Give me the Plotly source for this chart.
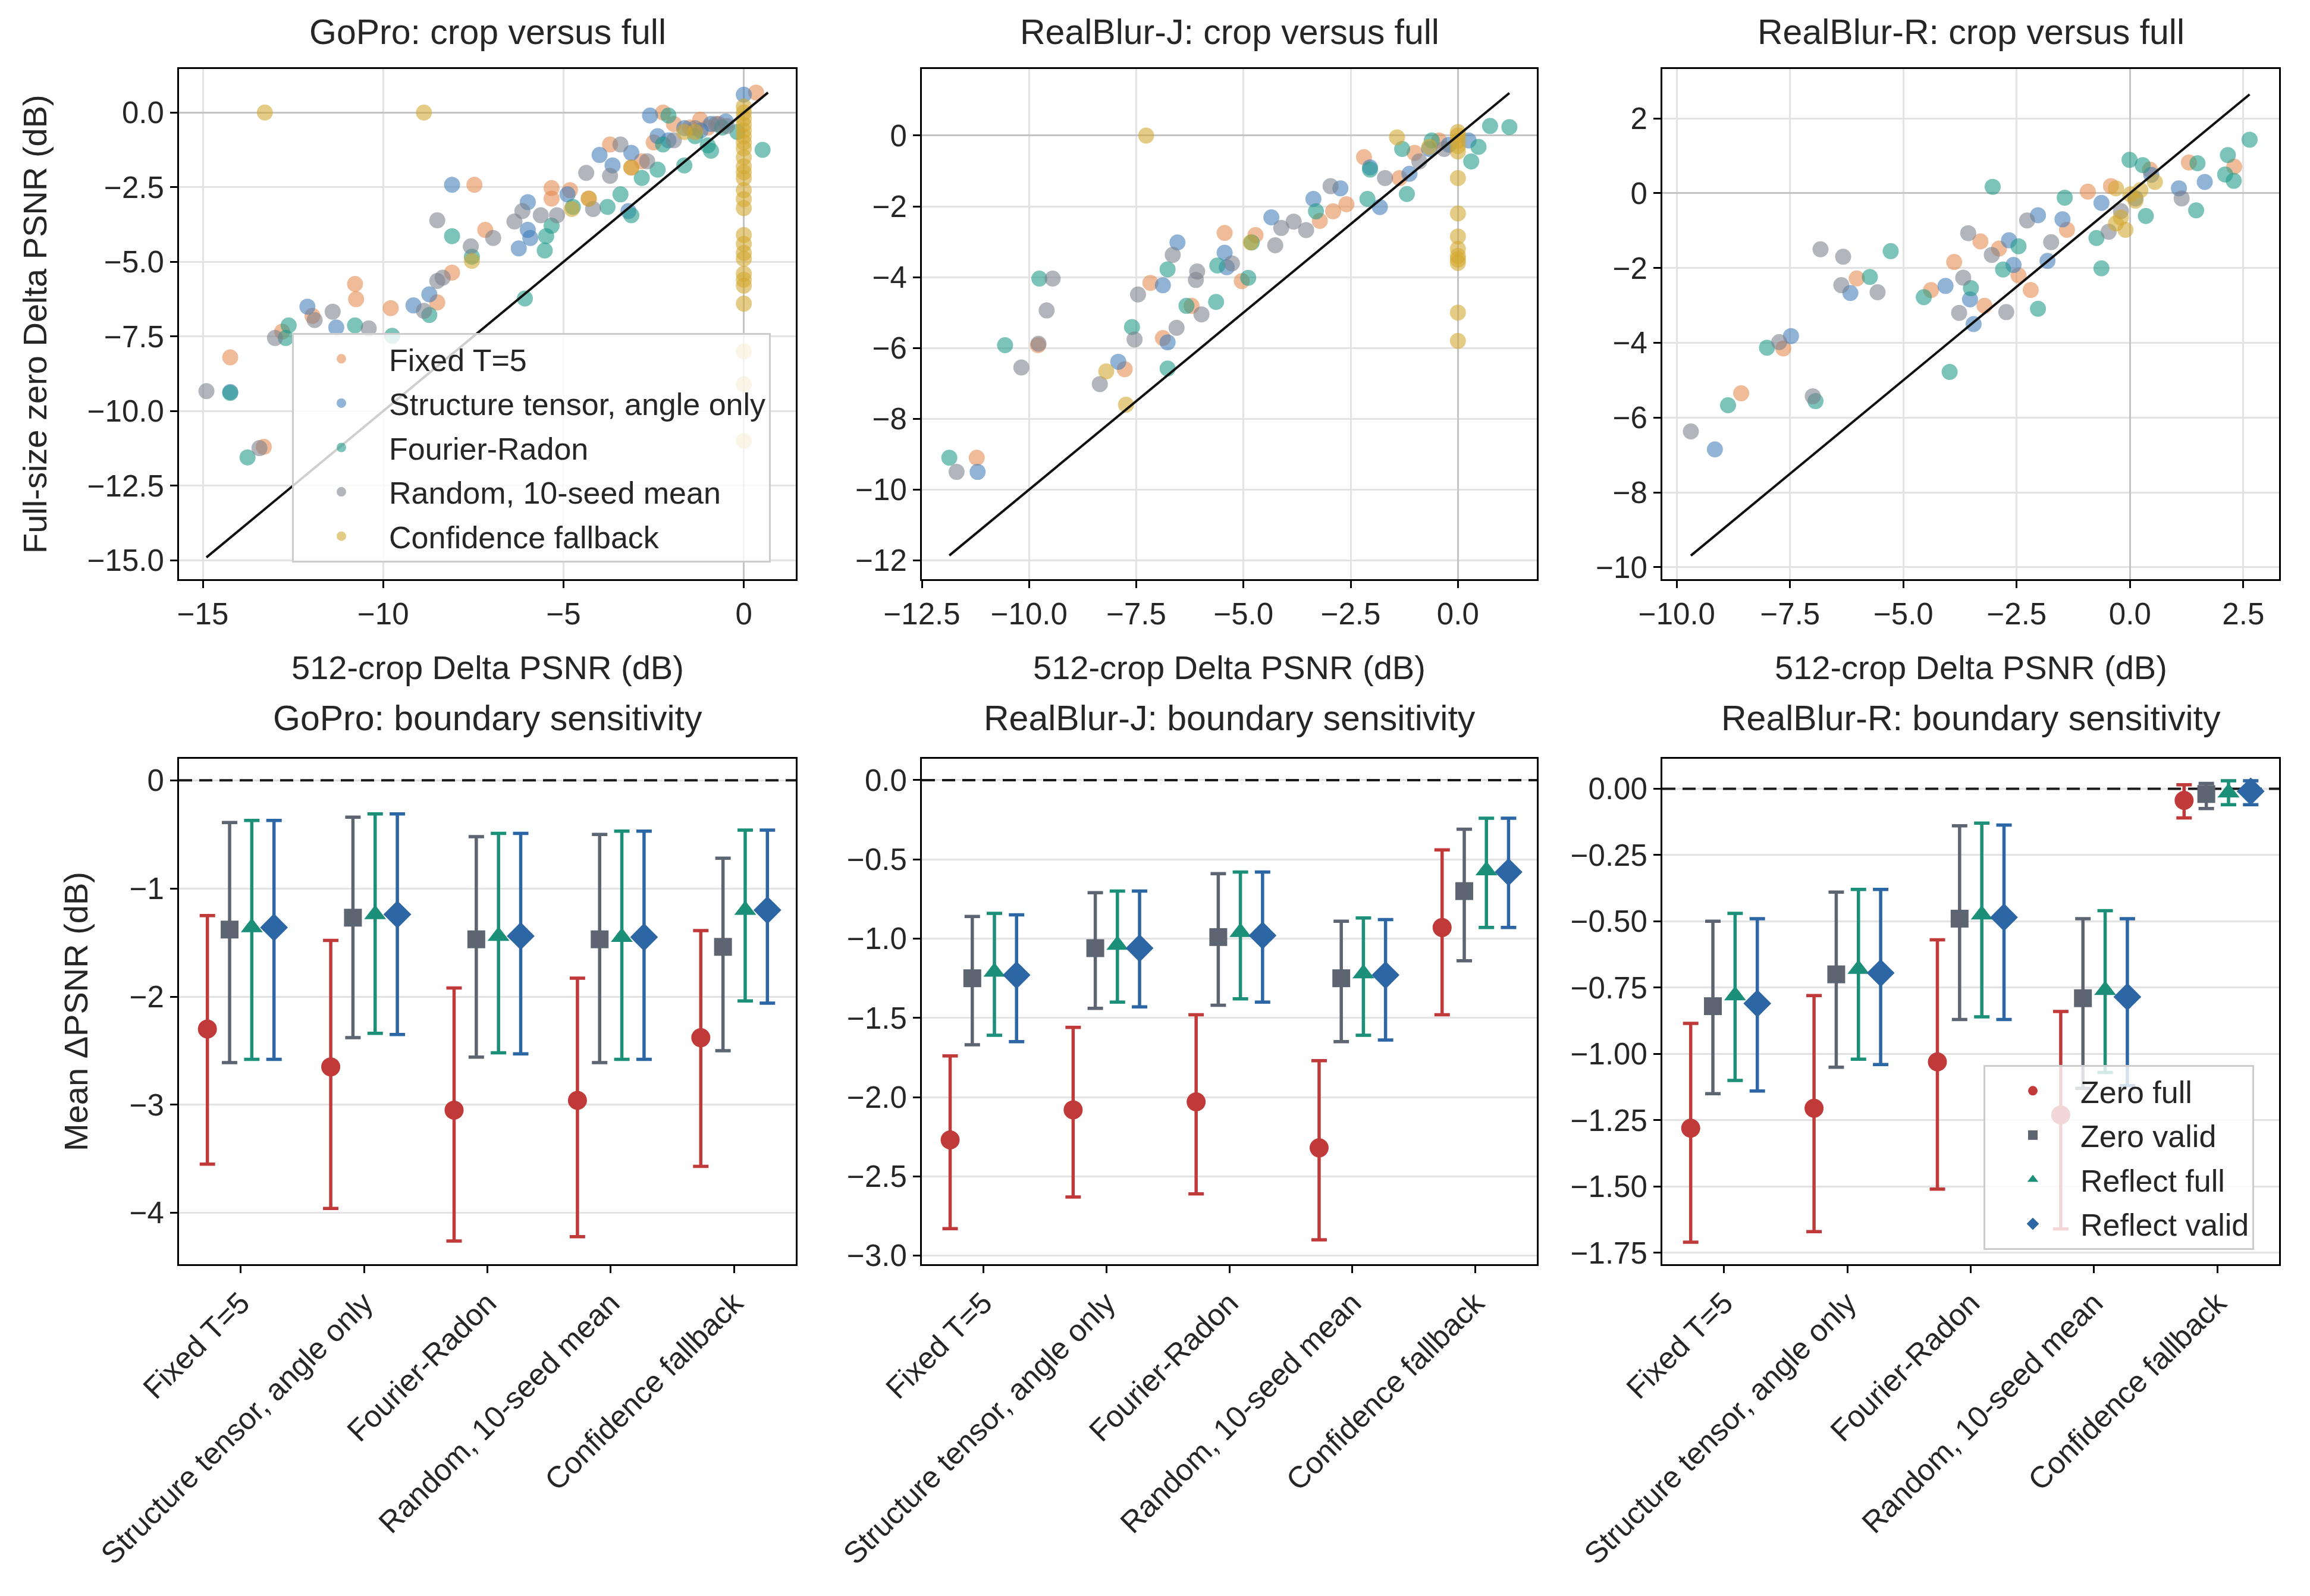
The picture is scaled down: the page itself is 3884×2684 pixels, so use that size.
import plotly.graph_objects as go
from plotly.subplots import make_subplots

W, H = 3884, 2684
FONT = "Liberation Sans, Arial, Helvetica, sans-serif"
INK = "#262626"

# ---------------- data ----------------
METHODS = ["Fixed T=5", "Structure tensor, angle only", "Fourier-Radon",
           "Random, 10-seed mean", "Confidence fallback"]
METHOD_COLORS = ["#E58A50", "#3F7CB8", "#1E9A88", "#7B808C", "#D2A72E"]
DATASETS = ["GoPro", "RealBlur-J", "RealBlur-R"]

# (512-crop delta, full-size zero delta) per image
GOPRO_FIXED = [(0.34, 0.67), (-2.24, 0.0), (-7.47, -2.42), (-5.33, -2.53), (-4.82, -2.6),
               (-7.17, -3.93), (-8.09, -5.36), (-10.78, -5.74), (-10.75, -6.25), (-9.79, -6.55),
               (-8.5, -6.36), (-11.96, -6.81), (-12.8, -7.34), (-14.24, -8.2), (-13.31, -11.2),
               (-4.3, -2.88), (-3.12, -1.84), (-1.5, -0.5), (-2.83, -1.63), (-0.7, -0.38),
               (-5.33, -2.88), (-3.71, -1.07), (-1.94, -0.38), (-1.21, -0.24), (-1.0, -0.5),
               (-2.5, -1.0)]
GOPRO_STRUCT = [(0.0, 0.6), (-2.6, -0.1), (-8.09, -2.42), (-5.99, -3.0), (-6.24, -4.55),
                (-5.99, -3.93), (-5.92, -4.2), (-8.72, -6.09), (-9.16, -6.46), (-12.1, -6.5),
                (-11.3, -7.2), (-14.24, -9.36), (-4.0, -1.42), (-3.64, -1.77), (-3.12, -1.35),
                (-2.39, -0.79), (-1.65, -0.52), (-0.91, -0.38), (-4.89, -2.74), (-3.2, -3.3),
                (-2.09, -0.93), (-1.2, -0.6), (-0.5, -0.3)]
GOPRO_FOURIER = [(0.52, -1.25), (-0.18, -0.65), (-0.91, -1.28), (-2.09, -0.1), (-1.65, -1.77),
                 (-2.39, -1.91), (-2.83, -2.19), (-3.12, -3.44), (-3.42, -2.74), (-3.78, -3.16),
                 (-4.74, -3.16), (-5.48, -4.14), (-5.33, -3.79), (-5.52, -4.62), (-6.07, -6.23),
                 (-8.09, -4.14), (-7.54, -4.83), (-8.72, -6.78), (-10.78, -7.13), (-12.62, -7.13),
                 (-12.7, -7.55), (-9.75, -7.48), (-14.24, -9.39), (-13.76, -11.55), (-1.35, -0.79),
                 (-2.24, -1.07), (-0.6, -0.5), (-1.0, -1.1)]
GOPRO_RANDOM = [(-14.9, -9.33), (-13.43, -11.24), (-13.0, -7.55), (-11.9, -6.95), (-11.4, -6.67),
                (-10.4, -7.23), (-8.87, -6.64), (-8.5, -5.64), (-8.35, -5.53), (-8.5, -3.61),
                (-7.57, -4.48), (-6.95, -4.2), (-6.36, -3.65), (-6.14, -3.3), (-5.63, -3.44),
                (-5.18, -3.44), (-4.37, -2.02), (-4.18, -3.23), (-3.71, -2.12), (-3.42, -1.07),
                (-2.68, -1.63), (-1.94, -0.93), (-1.35, -0.52), (-0.77, -0.38), (-0.47, -0.45)]
GOPRO_CONF = [(-13.28, 0.0), (-8.87, 0.0), (-7.54, -4.97), (-4.3, -2.88), (-4.77, -3.23),
              (-3.12, -1.84), (-1.35, -0.65), (-1.65, -0.65), (0.0, 0.2), (0.0, 0.0),
              (0.0, -0.2), (0.0, -0.4), (0.0, -0.6), (0.0, -0.8), (0.0, -1.0), (0.0, -1.2),
              (0.0, -1.5), (0.0, -1.8), (0.0, -2.0), (0.0, -2.2), (0.0, -2.6), (0.0, -2.9),
              (0.0, -3.2), (0.0, -4.1), (0.0, -4.4), (0.0, -4.7), (0.0, -4.9), (0.0, -5.4),
              (0.0, -5.6), (0.0, -5.8), (0.0, -6.4), (0.0, -8.0), (0.0, -9.1), (0.0, -11.0)]

RBJ_FIXED = [(-11.22, -9.1), (-9.79, -5.92), (-7.17, -4.16), (-7.77, -6.6), (-6.88, -5.72),
             (-6.21, -4.81), (-5.44, -2.75), (-4.72, -2.81), (-5.04, -4.11), (-3.22, -2.41),
             (-2.6, -1.94), (-2.19, -0.61), (-2.91, -2.14), (-1.36, -1.2), (-0.44, -0.14),
             (-1.01, -0.49)]
RBJ_STRUCT = [(-11.2, -9.5), (-7.92, -6.39), (-6.77, -5.84), (-6.88, -4.23), (-6.54, -3.02),
              (-5.44, -3.31), (-4.35, -2.31), (-3.37, -1.79), (-2.74, -1.49), (-2.05, -0.9),
              (-1.82, -2.02), (-1.13, -1.08), (-0.67, -0.38), (-0.21, -0.26), (0.25, -0.14),
              (-5.39, -3.72)]
RBJ_FOURIER = [(-11.86, -9.1), (-9.76, -4.04), (-10.56, -5.92), (-7.6, -5.41), (-6.77, -3.78),
               (-6.77, -6.58), (-6.33, -4.81), (-5.64, -4.7), (-5.61, -3.67), (-4.89, -4.02),
               (-4.81, -3.02), (-3.31, -2.14), (-2.11, -1.79), (-1.19, -1.65), (-1.3, -0.38),
               (0.75, 0.27), (1.2, 0.24), (0.31, -0.73), (0.48, -0.32), (-0.61, -0.14),
               (-2.05, -0.96)]
RBJ_RANDOM = [(-11.69, -9.5), (-10.18, -6.55), (-9.78, -5.88), (-9.59, -4.94), (-9.45, -4.04),
              (-8.35, -7.02), (-7.54, -5.76), (-7.46, -4.49), (-6.65, -3.37), (-6.56, -5.43),
              (-6.11, -4.08), (-5.98, -5.05), (-6.08, -3.84), (-5.27, -3.61), (-4.26, -3.1),
              (-4.12, -2.61), (-3.83, -2.43), (-3.54, -2.67), (-2.97, -1.43), (-1.7, -1.2),
              (-0.9, -0.73), (-0.32, -0.38)]
RBJ_CONF = [(-7.27, 0.0), (-8.2, -6.66), (-7.74, -7.6), (-4.83, -3.02), (-1.42, -0.05),
            (-0.67, -0.32), (0.0, 0.1), (0.0, 0.0), (0.0, -0.15), (0.0, -0.3), (0.0, -0.45),
            (0.0, -1.2), (0.0, -2.2), (0.0, -2.85), (0.0, -3.2), (0.0, -3.4), (0.0, -3.5),
            (0.0, -3.6), (0.0, -5.0), (0.0, -5.8)]

RBR_FIXED = [(-8.58, -5.35), (-7.65, -4.15), (-6.03, -2.28), (-4.39, -2.59), (-3.88, -1.84),
             (-3.3, -1.29), (-3.21, -3.01), (-2.46, -2.2), (-2.19, -2.59), (-0.93, 0.04),
             (-1.39, -0.98), (-0.42, 0.19), (0.44, 0.63), (1.3, 0.82), (2.3, 0.71), (-2.89, -1.48)]
RBR_STRUCT = [(-9.16, -6.85), (-7.48, -3.82), (-6.17, -2.67), (-3.53, -2.84), (-3.45, -3.5),
              (-2.67, -1.26), (-2.03, -0.59), (-1.49, -0.7), (-0.63, -0.26), (0.12, -0.14),
              (1.65, 0.3), (0.47, 0.49), (1.08, 0.13), (-4.07, -2.48), (-2.57, -1.92),
              (-1.82, -1.81)]
RBR_FOURIER = [(-8.87, -5.67), (-8.01, -4.13), (-5.74, -2.24), (-5.28, -1.55), (-4.55, -2.78),
               (-3.98, -4.78), (-3.03, 0.17), (-3.51, -2.54), (-2.8, -2.04), (-2.03, -3.09),
               (-1.44, -0.12), (-0.74, -1.2), (-0.63, -2.01), (-0.01, 0.89), (0.28, 0.75),
               (1.46, -0.46), (1.49, 0.8), (2.16, 1.02), (2.1, 0.5), (2.29, 0.33), (2.64, 1.43),
               (-6.94, -5.56), (0.35, -0.61), (-2.46, -1.42)]
RBR_RANDOM = [(-9.69, -6.37), (-7.74, -3.98), (-7.0, -5.43), (-6.83, -1.5), (-6.33, -1.7),
              (-6.37, -2.46), (-5.57, -2.65), (-3.57, -1.07), (-3.77, -3.2), (-2.73, -3.18),
              (-2.27, -0.73), (-1.74, -1.31), (-0.47, -1.03), (-0.2, -0.48), (1.14, -0.14),
              (-3.68, -2.26), (-3.05, -1.65)]
RBR_CONF = [(-0.31, -0.81), (-0.2, -0.65), (0.01, -0.03), (0.12, -0.2), (0.23, 0.08),
            (0.55, 0.3), (-0.1, -0.98), (-0.31, 0.13)]

SCATTER_DATA = [
    [GOPRO_FIXED, GOPRO_STRUCT, GOPRO_FOURIER, GOPRO_RANDOM, GOPRO_CONF],
    [RBJ_FIXED, RBJ_STRUCT, RBJ_FOURIER, RBJ_RANDOM, RBJ_CONF],
    [RBR_FIXED, RBR_STRUCT, RBR_FOURIER, RBR_RANDOM, RBR_CONF],
]

# boundary sensitivity: (mean, low, high) per method
SERIES = ["Zero full", "Zero valid", "Reflect full", "Reflect valid"]
SERIES_COLORS = ["#C03A3A", "#5E6572", "#1B8F77", "#2C66A4"]
SERIES_SYMBOLS = ["circle", "square", "triangle-up", "diamond"]
SERIES_SIZES = [32, 30, 32, 36]
SERIES_OFFSETS = [-0.27, -0.09, 0.09, 0.27]

GOPRO_ZERO_FULL = [(-2.30, -3.55, -1.25), (-2.65, -3.96, -1.48), (-3.05, -4.26, -1.92),
                   (-2.96, -4.22, -1.83), (-2.38, -3.57, -1.39)]
GOPRO_ZERO_VALID = [(-1.38, -2.61, -0.39), (-1.27, -2.38, -0.34), (-1.47, -2.56, -0.52),
                    (-1.47, -2.61, -0.50), (-1.54, -2.50, -0.72)]
GOPRO_REFLECT_FULL = [(-1.36, -2.58, -0.37), (-1.24, -2.34, -0.31), (-1.44, -2.52, -0.49),
                      (-1.45, -2.58, -0.47), (-1.20, -2.04, -0.46)]
GOPRO_REFLECT_VALID = [(-1.36, -2.58, -0.37), (-1.24, -2.35, -0.31), (-1.44, -2.53, -0.49),
                       (-1.45, -2.58, -0.47), (-1.20, -2.06, -0.46)]

RBJ_ZERO_FULL = [(-2.27, -2.83, -1.74), (-2.08, -2.63, -1.56), (-2.03, -2.61, -1.48),
                 (-2.32, -2.90, -1.77), (-0.93, -1.48, -0.44)]
RBJ_ZERO_VALID = [(-1.25, -1.67, -0.86), (-1.06, -1.44, -0.71), (-0.99, -1.42, -0.59),
                  (-1.25, -1.65, -0.89), (-0.70, -1.14, -0.31)]
RBJ_REFLECT_FULL = [(-1.21, -1.61, -0.84), (-1.04, -1.40, -0.70), (-0.96, -1.38, -0.58),
                    (-1.22, -1.61, -0.87), (-0.57, -0.93, -0.24)]
RBJ_REFLECT_VALID = [(-1.23, -1.65, -0.85), (-1.06, -1.43, -0.70), (-0.98, -1.40, -0.58),
                     (-1.23, -1.64, -0.88), (-0.58, -0.93, -0.24)]

RBR_ZERO_FULL = [(-1.28, -1.71, -0.885), (-1.205, -1.67, -0.78), (-1.03, -1.51, -0.57),
                 (-1.23, -1.66, -0.84), (-0.044, -0.11, 0.015)]
RBR_ZERO_VALID = [(-0.82, -1.15, -0.50), (-0.70, -1.05, -0.39), (-0.49, -0.87, -0.14),
                  (-0.79, -1.13, -0.49), (-0.02, -0.075, 0.02)]
RBR_REFLECT_FULL = [(-0.78, -1.10, -0.47), (-0.68, -1.02, -0.38), (-0.475, -0.86, -0.13),
                    (-0.76, -1.07, -0.46), (-0.015, -0.06, 0.03)]
RBR_REFLECT_VALID = [(-0.81, -1.14, -0.49), (-0.695, -1.04, -0.38), (-0.485, -0.87, -0.137),
                     (-0.785, -1.12, -0.49), (-0.01, -0.06, 0.03)]

BOUNDARY_DATA = [
    [GOPRO_ZERO_FULL, GOPRO_ZERO_VALID, GOPRO_REFLECT_FULL, GOPRO_REFLECT_VALID],
    [RBJ_ZERO_FULL, RBJ_ZERO_VALID, RBJ_REFLECT_FULL, RBJ_REFLECT_VALID],
    [RBR_ZERO_FULL, RBR_ZERO_VALID, RBR_REFLECT_FULL, RBR_REFLECT_VALID],
]

# ---------------- layout geometry (px in the 3884x2684 figure) ----------------
COL_X = [(293, 1330), (1542, 2576), (2787, 3824)]
TOP_Y = (108, 966)
BOT_Y = (1268, 2118)

TOP_XRANGE = [[-15.66, 1.44], [-12.5, 1.84], [-10.32, 3.29]]
TOP_YRANGE = [[-15.63, 1.46], [-12.53, 1.88], [-10.32, 3.32]]
TOP_XTICKS = [[-15, -10, -5, 0], [-12.5, -10, -7.5, -5, -2.5, 0], [-10, -7.5, -5, -2.5, 0, 2.5]]
TOP_YTICKS = [[0, -2.5, -5, -7.5, -10, -12.5, -15], [0, -2, -4, -6, -8, -10, -12],
              [2, 0, -2, -4, -6, -8, -10]]
TOP_XFMT = ["d", ".1f", ".1f"]
TOP_YFMT = [".1f", "d", "d"]

BOT_XRANGE = [-0.5, 4.5]
BOT_YRANGE = [[-4.475, 0.2], [-3.054, 0.135], [-1.793, 0.113]]
BOT_DTICK = [1, 0.5, 0.25]
BOT_YFMT = ["d", ".1f", ".2f"]


def px_x(v):
    return v / W


def px_y(v):
    return 1 - v / H


fig = make_subplots(rows=2, cols=3)

axis_common = dict(
    automargin=False,
    showline=True, linecolor="black", linewidth=3, mirror=True,
    ticks="outside", ticklen=12, tickwidth=3, tickcolor="black",
    tickfont=dict(family=FONT, size=51, color=INK),
    gridcolor="#E3E3E3", gridwidth=2.5,
)

# ---------------- top row: crop versus full ----------------
for c in range(3):
    groups = SCATTER_DATA[c]
    all_vals = [v for g in groups for p in g for v in p]
    lo, hi = min(all_vals), max(all_vals)
    for m, pts in enumerate(groups):
        fig.add_trace(
            go.Scatter(
                x=[p[0] for p in pts], y=[p[1] for p in pts],
                mode="markers", name=METHODS[m],
                marker=dict(color=METHOD_COLORS[m], size=27, opacity=0.58, line=dict(width=0)),
                showlegend=(c == 0), legend="legend", legendgroup=f"m{m}",
            ),
            row=1, col=c + 1,
        )
    # identity line y = x
    fig.add_trace(
        go.Scatter(x=[lo, hi], y=[lo, hi], mode="lines",
                   line=dict(color="#111111", width=4), showlegend=False, hoverinfo="skip"),
        row=1, col=c + 1,
    )
    fig.update_xaxes(axis_common, range=TOP_XRANGE[c], tickvals=TOP_XTICKS[c],
                     tickformat=TOP_XFMT[c], showgrid=True,
                     zeroline=True, zerolinecolor="#C4C4C4", zerolinewidth=3,
                     domain=[px_x(COL_X[c][0]), px_x(COL_X[c][1])], row=1, col=c + 1)
    fig.update_yaxes(axis_common, range=TOP_YRANGE[c], tickvals=TOP_YTICKS[c],
                     tickformat=TOP_YFMT[c], showgrid=True,
                     zeroline=True, zerolinecolor="#C4C4C4", zerolinewidth=3,
                     domain=[px_y(TOP_Y[1]), px_y(TOP_Y[0])], row=1, col=c + 1)

# ---------------- bottom row: boundary sensitivity ----------------
for c in range(3):
    # dashed reference at zero, drawn first so markers sit on top
    fig.add_trace(
        go.Scatter(x=BOT_XRANGE, y=[0, 0], mode="lines",
                   line=dict(color="#1a1a1a", width=4, dash="22px,12px"),
                   showlegend=False, hoverinfo="skip"),
        row=2, col=c + 1,
    )
    for s, rows in enumerate(BOUNDARY_DATA[c]):
        means = [r[0] for r in rows]
        fig.add_trace(
            go.Scatter(
                x=[i + SERIES_OFFSETS[s] for i in range(len(rows))], y=means,
                mode="markers", name=SERIES[s],
                marker=dict(color=SERIES_COLORS[s], symbol=SERIES_SYMBOLS[s],
                            size=SERIES_SIZES[s], line=dict(width=0)),
                error_y=dict(type="data", symmetric=False,
                             array=[r[2] - r[0] for r in rows],
                             arrayminus=[r[0] - r[1] for r in rows],
                             color=SERIES_COLORS[s], thickness=5.5, width=13),
                showlegend=(c == 2), legend="legend2", legendgroup=f"s{s}",
            ),
            row=2, col=c + 1,
        )
    fig.update_xaxes(axis_common, range=BOT_XRANGE, tickvals=list(range(len(METHODS))),
                     ticktext=METHODS, tickangle=-45, showgrid=False, zeroline=False,
                     domain=[px_x(COL_X[c][0]), px_x(COL_X[c][1])], row=2, col=c + 1)
    fig.update_yaxes(axis_common, range=BOT_YRANGE[c], dtick=BOT_DTICK[c],
                     tickformat=BOT_YFMT[c], showgrid=True, zeroline=False,
                     domain=[px_y(BOT_Y[1]), px_y(BOT_Y[0])], row=2, col=c + 1)

# ---------------- titles ----------------
def label(text, x, y, size, angle=0):
    return dict(text=text, x=x, y=y, xref="paper", yref="paper", showarrow=False,
                xanchor="center", yanchor="middle", textangle=angle,
                font=dict(family=FONT, size=size, color=INK))


annotations = []
for c in range(3):
    xc = px_x((COL_X[c][0] + COL_X[c][1]) / 2)
    annotations.append(label(f"{DATASETS[c]}: crop versus full", xc, px_y(46), 59))
    annotations.append(label(f"{DATASETS[c]}: boundary sensitivity", xc, px_y(1200), 59))
    annotations.append(label("512-crop Delta PSNR (dB)", xc, px_y(1114), 56))
annotations.append(label("Full-size zero Delta PSNR (dB)", px_x(50),
                         px_y((TOP_Y[0] + TOP_Y[1]) / 2), 56, -90))
annotations.append(label("Mean ΔPSNR (dB)", px_x(119),
                         px_y((BOT_Y[0] + BOT_Y[1]) / 2), 56, -90))

legend_style = dict(
    bgcolor="rgba(255,255,255,0.8)", bordercolor="#CCCCCC", borderwidth=3,
    font=dict(family=FONT, size=52, color=INK), itemwidth=150,
    xanchor="left", yanchor="top", tracegroupgap=4,
)

fig.update_layout(
    width=W, height=H,
    margin=dict(l=0, r=0, t=0, b=0, autoexpand=False),
    paper_bgcolor="white", plot_bgcolor="white",
    font=dict(family=FONT, color=INK),
    annotations=annotations,
    legend=dict(legend_style, x=px_x(483), y=px_y(552)),
    legend2=dict(legend_style, x=px_x(3327), y=px_y(1783)),
)

fig.write_html("out.html")
